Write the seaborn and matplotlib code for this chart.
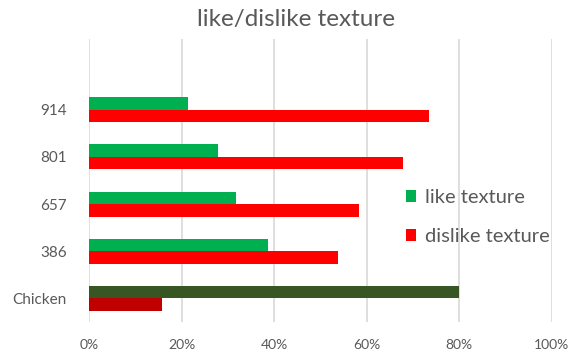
import matplotlib
matplotlib.use("Agg")
import matplotlib.pyplot as plt
from matplotlib.patches import Patch
from matplotlib.ticker import PercentFormatter
import pandas as pd
import seaborn as sns

categories = ["914", "801", "657", "386", "Chicken"]
like_texture = [0.214, 0.279, 0.317, 0.386, 0.80]
dislike_texture = [0.735, 0.678, 0.584, 0.537, 0.157]
series_names = ["like texture", "dislike texture"]
x_ticks = [0, 0.2, 0.4, 0.6, 0.8, 1.0]

like_color = "#00B050"
dislike_color = "#FF0000"
chicken_like_color = "#375623"
chicken_dislike_color = "#C00000"
text_color = "#595959"
grid_color = "#D9D9D9"

df = pd.DataFrame({
    "item": categories * 2,
    "share": like_texture + dislike_texture,
    "series": [series_names[0]] * len(categories) + [series_names[1]] * len(categories),
})

sns.set_theme(style="white")
plt.rcParams["font.family"] = ["Lato", "DejaVu Sans"]

fig = plt.figure(figsize=(5.87, 3.53), dpi=100)
ax = fig.add_axes([0.1516, 0.0878, 0.7884, 0.8017])

sns.barplot(data=df, y="item", x="share", hue="series", order=categories,
            hue_order=series_names, palette=[like_color, dislike_color],
            orient="h", width=0.53, saturation=1, ax=ax, legend=False)

# the benchmark row gets darker shades
chicken_idx = categories.index("Chicken")
ax.containers[0][chicken_idx].set_facecolor(chicken_like_color)
ax.containers[1][chicken_idx].set_facecolor(chicken_dislike_color)
for cont in ax.containers:
    for bar in cont:
        bar.set_edgecolor("none")

ax.set_xlim(0, 1.0)
ax.set_ylim(len(categories) - 0.5, -1.5)
ax.set_xticks(x_ticks)
ax.xaxis.set_major_formatter(PercentFormatter(1.0, decimals=0))
ax.grid(axis="x", color=grid_color, linewidth=1.2)
ax.set_axisbelow(True)
for s in ax.spines.values():
    s.set_visible(False)
ax.tick_params(axis="both", length=0, labelcolor=text_color)
ax.tick_params(axis="x", pad=12, labelsize=10)
ax.tick_params(axis="y", pad=16, labelsize=11)
ax.set_xlabel("")
ax.set_ylabel("")

fig.text(0.505, 0.945, "like/dislike texture", ha="center", va="center",
         fontsize=17.5, color=text_color)

handles = [Patch(facecolor=like_color, edgecolor="none"),
           Patch(facecolor=dislike_color, edgecolor="none")]
fig.legend(handles, series_names, loc="center left",
           bbox_to_anchor=(0.66, 0.385), frameon=False, fontsize=14.5,
           labelcolor=text_color, handlelength=0.5, handleheight=0.5,
           handletextpad=0.45, labelspacing=1.1)

fig.savefig("out.png", dpi=100)
